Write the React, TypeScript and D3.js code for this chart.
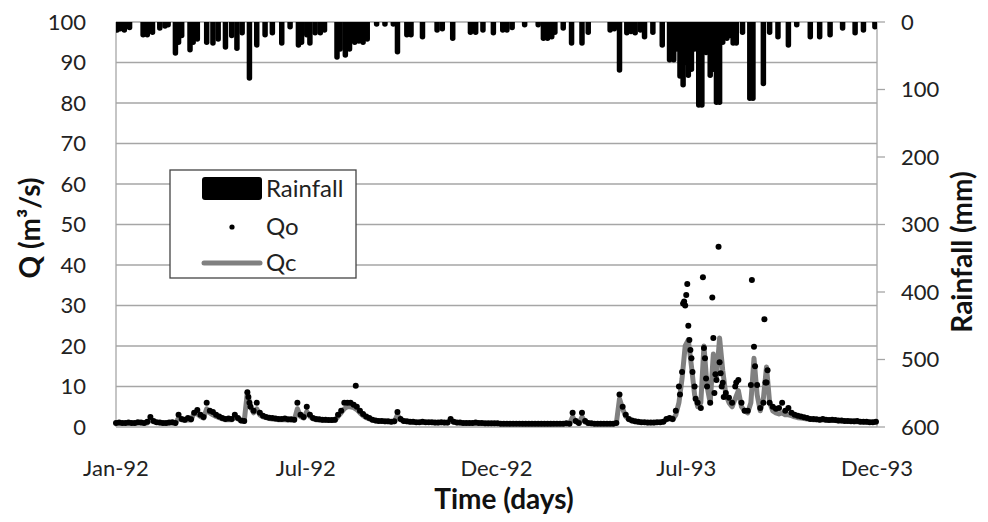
import * as d3 from 'd3'

// chart values
const timeLabels = ['Jan-92', 'Jul-92', 'Dec-92', 'Jul-93', 'Dec-93']
const timeLabelDays = [0, 182, 365, 547, 730]
const qTicks = [0, 10, 20, 30, 40, 50, 60, 70, 80, 90, 100]
const rainTicks = [0, 100, 200, 300, 400, 500, 600]

// daily rainfall events (day since 1 Jan 1992, mm)
const rainDays = [
  1, 4, 8, 13, 26, 30, 35, 42, 47, 50, 57, 60, 63, 71, 74, 78, 87, 93, 98, 105, 111, 116, 121, 128, 135,
  143, 150, 159, 167, 175, 178, 183, 186, 191, 196, 200, 212, 215, 220, 224, 229, 233, 237, 241, 250, 258,
  266, 270, 279, 283, 294, 308, 313, 323, 340, 345, 352, 362, 371, 375, 380, 392, 405, 410, 414, 418, 421,
  429, 437, 447, 453, 474, 478, 483, 490, 494, 498, 503, 507, 515, 524, 531, 535, 538, 541, 544, 546, 549,
  552, 555, 559, 562, 566, 570, 573, 576, 579, 582, 586, 589, 592, 595, 601, 608, 611, 621, 627, 635, 645,
  653, 666, 675, 685, 697, 709, 717, 728,
]
const rainMm = [
  12, 10, 12, 8, 19, 19, 15, 9, 6, 4, 46, 30, 20, 41, 30, 25, 30, 31, 25, 37, 20, 39, 16, 83, 34,
  19, 16, 31, 7, 34, 30, 19, 31, 16, 16, 12, 52, 40, 49, 40, 30, 28, 30, 25, 3, 3,
  3, 44, 19, 19, 22, 12, 10, 24, 15, 15, 12, 16, 12, 12, 8, 4, 4, 24, 24, 22, 15,
  9, 31, 31, 15, 12, 10, 71, 16, 14, 16, 12, 22, 15, 34, 56, 56, 40, 80, 93, 60, 79,
  70, 40, 123, 123, 45, 79, 70, 119, 119, 30, 24, 20, 31, 31, 15, 113, 113, 91, 15, 22, 34,
  4, 22, 22, 19, 9, 16, 12, 7,
]

// observed (Qo) and computed (Qc) discharge, every 3 days from 1 Jan 1992 (m3/s)
const qoEvery3 = [
  1.0, 1.1, 1.0, 1.0, 1.1, 1.0, 1.0, 1.2, 1.1, 1.0,
  1.3, 2.5, 1.5, 1.2, 1.1, 1.0, 1.0, 1.1, 1.2, 1.0,
  3.0, 2.0, 1.8, 2.2, 1.9, 3.5, 4.2, 3.0, 2.5, 6.0,
  4.0, 3.7, 3.0, 2.6, 2.2, 2.0, 2.1, 2.0, 3.0, 2.2,
  1.6, 1.5, 8.6, 5.0, 4.0, 6.0, 3.5, 2.8, 2.5, 2.3,
  2.2, 2.1, 2.0, 2.0, 2.1, 1.9, 1.9, 1.8, 6.0, 3.0,
  2.5, 5.0, 3.0, 2.2, 2.0, 1.9, 1.8, 1.8, 1.7, 1.7,
  1.8, 3.0, 4.0, 6.0, 6.0, 6.0, 5.5, 5.0, 4.0, 3.2,
  2.6, 2.2, 1.8, 1.6, 1.5, 1.5, 1.4, 1.4, 1.3, 1.4,
  3.7, 2.0, 1.5, 1.4, 1.3, 1.3, 1.2, 1.2, 1.3, 1.2,
  1.2, 1.2, 1.1, 1.1, 1.2, 1.1, 1.1, 2.0, 1.3, 1.1,
  1.1, 1.0, 1.0, 1.0, 1.0, 1.1, 1.0, 1.0, 0.9, 0.9,
  0.9, 0.9, 0.9, 0.8, 0.8, 0.8, 0.8, 0.8, 0.8, 0.8,
  0.8, 0.8, 0.8, 0.8, 0.8, 0.8, 0.8, 0.8, 0.8, 0.8,
  0.8, 0.8, 0.8, 0.8, 0.9, 0.8, 3.5, 1.5, 1.0, 3.5,
  1.5, 1.0, 0.9, 0.8, 0.8, 0.8, 0.8, 0.8, 0.8, 0.8,
  1.0, 8.0, 5.0, 3.0, 2.0, 1.6, 1.4, 1.3, 1.2, 1.2,
  1.1, 1.1, 1.1, 1.2, 1.2, 1.3, 2.0, 2.2, 2.0, 4.0,
  10, 13.6, 30, 25, 17, 10, 6, 4.7, 19.5, 10,
  6, 22, 11.6, 16, 10.9, 8.4, 7.2, 6, 10, 11.6,
  6, 4, 4, 10.4, 19.8, 10.4, 4.7, 6, 11, 6,
  5, 4.5, 4.7, 6, 4, 4.7, 3.5, 3, 2.8, 2.6,
  2.4, 2.2, 2.0, 2.0, 1.9, 1.8, 2.0, 1.8, 1.7, 1.8,
  1.7, 1.6, 1.6, 1.5, 1.5, 1.4, 1.4, 1.5, 1.3, 1.3,
  1.3, 1.2, 1.2, 1.3,
]
const qcEvery3 = [
  0.9, 0.9, 0.9, 0.9, 0.9, 0.9, 0.9, 1.0, 1.0, 0.9,
  1.0, 1.8, 1.3, 1.1, 1.0, 0.9, 0.9, 1.0, 1.0, 0.9,
  2.2, 1.8, 1.6, 1.8, 1.7, 3.5, 3.2, 2.6, 2.2, 4.5,
  3.5, 3.0, 2.6, 2.3, 2.0, 1.8, 1.8, 1.8, 2.4, 2.0,
  1.5, 1.4, 8.5, 5.0, 3.5, 4.5, 3.0, 2.5, 2.3, 2.1,
  2.0, 1.9, 1.8, 1.8, 1.8, 1.7, 1.7, 1.7, 4.5, 2.6,
  2.2, 3.8, 2.6, 2.0, 1.8, 1.7, 1.6, 1.6, 1.6, 1.6,
  1.6, 2.6, 3.5, 4.5, 5.0, 5.0, 4.8, 4.3, 3.5, 2.8,
  2.3, 2.0, 1.7, 1.5, 1.4, 1.4, 1.3, 1.3, 1.3, 1.3,
  3.0, 1.8, 1.4, 1.3, 1.2, 1.2, 1.1, 1.1, 1.2, 1.1,
  1.1, 1.1, 1.0, 1.0, 1.1, 1.0, 1.0, 1.6, 1.2, 1.0,
  1.0, 0.9, 0.9, 0.9, 0.9, 1.0, 0.9, 0.9, 0.8, 0.8,
  0.8, 0.8, 0.8, 0.8, 0.8, 0.8, 0.8, 0.8, 0.8, 0.8,
  0.7, 0.7, 0.7, 0.7, 0.7, 0.7, 0.7, 0.7, 0.7, 0.7,
  0.8, 0.8, 0.8, 0.8, 0.8, 0.8, 2.5, 1.3, 0.9, 2.5,
  1.2, 0.9, 0.8, 0.8, 0.8, 0.8, 0.8, 0.8, 0.8, 0.8,
  1.0, 7.0, 4.5, 2.6, 1.8, 1.5, 1.3, 1.2, 1.1, 1.1,
  1.0, 1.0, 1.0, 1.1, 1.1, 1.2, 1.8, 2.0, 1.8, 3.0,
  6, 12, 20, 21.5, 15, 8, 5, 6, 20, 10,
  6, 18, 12, 22, 14, 8, 6, 5, 7, 9,
  5, 4, 3.5, 6, 17, 8, 4, 7, 14.8, 6,
  4, 3.5, 3.2, 3.5, 3, 3, 2.8, 2.5, 2.3, 2.2,
  2.1, 2.0, 1.9, 1.8, 1.8, 1.7, 1.7, 1.7, 1.6, 1.6,
  1.6, 1.5, 1.5, 1.4, 1.4, 1.4, 1.3, 1.3, 1.3, 1.2,
  1.2, 1.2, 1.2, 1.2,
]

// extra observed points during storm peaks
const qoPeakDays = [127, 128, 230, 541, 544, 545, 547, 548, 550, 551, 553, 556, 563, 565, 566, 572, 574, 575, 578, 580, 581, 583, 595, 610, 613, 622, 623, 625]
const qoPeakValues = [7.4, 6, 10.2, 8, 30.5, 31, 32.6, 35.3, 21.5, 19, 13.6, 7, 37, 17, 12, 32, 8.4, 13, 44.5, 13.3, 10, 7.4, 11, 36.3, 15, 26.6, 11, 14]

const W = 988
const H = 522
const margin = { top: 22, right: 111, bottom: 95, left: 116 }
const font = 'Lato, "Open Sans", sans-serif'
const grid = '#a6a6a6'

export default function App() {
  const x = d3.scaleLinear().domain([0, 730]).range([margin.left, W - margin.right])
  const yQ = d3.scaleLinear().domain([0, 100]).range([H - margin.bottom, margin.top])
  const yR = d3.scaleLinear().domain([0, 600]).range([margin.top, H - margin.bottom])

  const qc = qcEvery3.map((v, i) => [i * 3, v] as [number, number])
  const qo = qoEvery3
    .map((v, i) => [i * 3, v] as [number, number])
    .concat(qoPeakDays.map((d, i) => [d, qoPeakValues[i]] as [number, number]))

  const qcLine = d3.line<[number, number]>()
    .x(d => x(d[0]))
    .y(d => yQ(d[1]))

  const left = margin.left
  const right = W - margin.right
  const top = margin.top
  const bottom = H - margin.bottom

  return (
    <svg width={W} height={H} style={{ position: 'absolute', left: 0, top: 0, background: '#fff' }}
      fontFamily={font}>
      <defs>
        <clipPath id="plot">
          <rect x={left} y={top} width={right - left} height={bottom - top} />
        </clipPath>
      </defs>

      {qTicks.map(t => (
        <line key={t} x1={left} x2={right} y1={yQ(t)} y2={yQ(t)} stroke={grid} strokeWidth={1.3} />
      ))}
      <line x1={left} x2={left} y1={top} y2={bottom} stroke={grid} strokeWidth={1.3} />
      <line x1={right} x2={right} y1={top} y2={bottom} stroke={grid} strokeWidth={1.3} />

      <g clipPath="url(#plot)">
        {rainDays.map((d, i) => (
          <line key={i} x1={x(d)} x2={x(d)} y1={yR(0) - 4} y2={yR(rainMm[i])}
            stroke="#000" strokeWidth={5.5} strokeLinecap="round" />
        ))}
      </g>

      <path d={qcLine(qc) ?? ''} fill="none" stroke="#808080" strokeWidth={5} strokeLinejoin="round" />
      {qo.map((d, i) => (
        <circle key={i} cx={x(d[0])} cy={yQ(d[1])} r={3} fill="#000" />
      ))}

      {qTicks.map(t => (
        <text key={t} x={86} y={yQ(t)} dy="0.35em" textAnchor="end" fontSize={22} fill="#222">{t}</text>
      ))}
      {rainTicks.map(t => (
        <g key={t}>
          <line x1={right} x2={right + 8} y1={yR(t)} y2={yR(t)} stroke={grid} strokeWidth={1.3} />
          <text x={901} y={yR(t)} dy="0.35em" fontSize={22} fill="#222">{t}</text>
        </g>
      ))}
      {timeLabels.map((l, i) => (
        <text key={l} x={x(timeLabelDays[i])} y={468} dy="0.35em" textAnchor="middle" fontSize={22} fill="#222">{l}</text>
      ))}

      <text x={504} y={499} dy="0.35em" textAnchor="middle" fontSize={28} fontWeight="bold" fill="#111">Time (days)</text>
      <text transform="translate(30,228) rotate(-90)" dy="0.35em" textAnchor="middle" fontSize={28} fontWeight="bold" fill="#111">
        Q (m³/s)
      </text>
      <text transform="translate(962,252) rotate(-90)" dy="0.35em" textAnchor="middle" fontSize={28} fontWeight="bold" fill="#111">
        Rainfall (mm)
      </text>

      <g>
        <rect x={170} y={170} width={186} height={108} fill="#fff" stroke="#444" strokeWidth={1.3} />
        <rect x={202} y={177} width={60} height={23} rx={3} fill="#000" />
        <text x={266} y={189} dy="0.35em" fontSize={24} fill="#222">Rainfall</text>
        <circle cx={232} cy={227} r={2.6} fill="#000" />
        <text x={266} y={227} dy="0.35em" fontSize={24} fill="#222">Qo</text>
        <line x1={204} x2={260} y1={263} y2={263} stroke="#808080" strokeWidth={5} strokeLinecap="round" />
        <text x={266} y={263} dy="0.35em" fontSize={24} fill="#222">Qc</text>
      </g>
    </svg>
  )
}
